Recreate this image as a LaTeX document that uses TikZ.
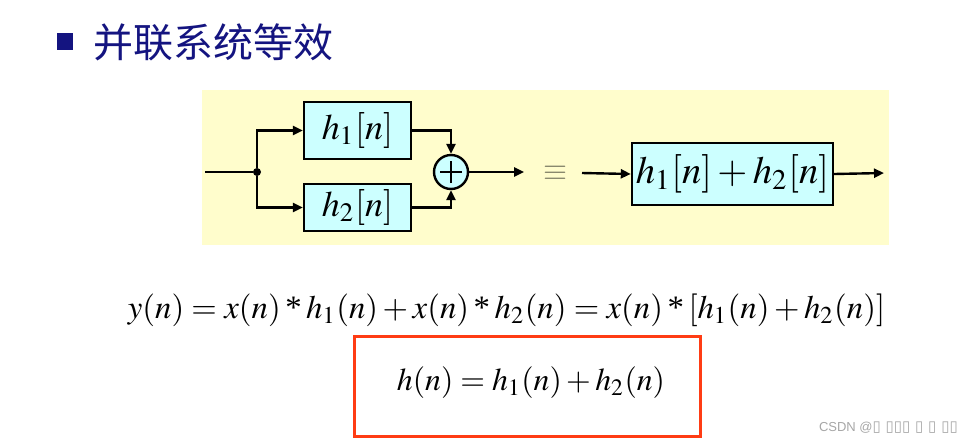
\documentclass[tikz,border=0pt]{standalone}
\usepackage[no-math]{fontspec}
\usepackage{mathptmx}
\setmainfont{Liberation Serif}
\newfontfamily\cjk{Noto Sans CJK SC}
\newfontfamily\wmfont{Liberation Sans}
\newfontfamily\dvs{DejaVu Sans}
\usetikzlibrary{arrows.meta}
\definecolor{navy}{RGB}{20,20,128}
\definecolor{bgyellow}{RGB}{255,253,204}
\definecolor{boxcyan}{RGB}{204,255,255}
\definecolor{redbox}{RGB}{255,60,20}
\definecolor{eqgray}{RGB}{125,125,100}
\newcommand{\convstar}{\mathbin{\mbox{*}}}
\tikzset{
  blk/.style={draw=black, fill=boxcyan, line width=2.4pt, inner sep=0pt},
  arr/.style={line width=2.4pt, -{Triangle[length=10pt,width=9pt]}},
  ln/.style={line width=2.4pt}
}
\begin{document}
\begin{tikzpicture}[x=1pt,y=-1pt]
\useasboundingbox (0,0) rectangle (978,445);
% background panel
\fill[bgyellow] (202,90) rectangle (889,245);
% title
\fill[navy] (57,33) rectangle (73,50);
\node[anchor=west, inner sep=0pt, text=navy, font=\cjk\fontsize{40}{40}\selectfont] (title) at (93,42) {并联系统等效};
% parallel system
\coordinate (in) at (205,172);
\node[circle, fill=black, minimum size=8pt, inner sep=0pt] (j) at (257,172) {};
\node[blk, minimum width=107pt, minimum height=57pt] (h1) at (357.5,130.5) {\resizebox{71pt}{!}{$h_1[n]$}};
\node[blk, minimum width=107pt, minimum height=47pt] (h2) at (357.5,207.5) {\resizebox{71pt}{!}{$h_2[n]$}};
\node[circle, draw=black, fill=boxcyan, line width=2.4pt, minimum size=34pt, inner sep=0pt] (sum) at (451,172) {};
\draw[line width=1.6pt] ([xshift=-11pt]sum.center) -- ([xshift=11pt]sum.center);
\draw[line width=1.6pt] ([yshift=-11pt]sum.center) -- ([yshift=11pt]sum.center);
\coordinate (out1) at (524,172);
\draw[ln] (in) -- (j);
\draw[arr] (j) |- (h1.west);
\draw[arr] (j) |- (h2.west);
\draw[arr] (h1.east) -| (sum.north);
\draw[arr] (h2.east) -| (sum.south);
\draw[arr] (sum.east) -- (out1);
% equivalence
\node[text=eqgray, inner sep=0pt] (eq) at (555,173) {\resizebox{24pt}{!}{$\equiv$}};
\coordinate (in2) at (582,173);
\node[blk, minimum width=201pt, minimum height=62pt] (hb) at (732.5,174) {\resizebox{193pt}{!}{$h_1[n]+h_2[n]$}};
\coordinate (out2) at (884,173);
\draw[arr] (in2) -- (hb.west);
\draw[arr] (hb.east) -- (out2);
% equations
\node[inner sep=0pt] (eq1) at (506.5,310) {\resizebox{757pt}{!}{$y(n)=x(n)\convstar h_1(n)+x(n)\convstar h_2(n)=x(n)\convstar[h_1(n)+h_2(n)]$}};
\draw[redbox, line width=3pt] (354,336) rectangle (700,436);
\node[inner sep=0pt] (eq2) at (531,383) {\resizebox{268pt}{!}{$h(n)=h_1(n)+h_2(n)$}};
% watermark
\node[anchor=east, inner sep=0pt, text=black!35, font=\wmfont\fontsize{13}{13}\selectfont] (wm) at (958,428) {CSDN @{\dvs\fontsize{15}{15}\selectfont ▯ ▯▯▯ ▯ ▯ ▯▯}};
\end{tikzpicture}
\end{document}
